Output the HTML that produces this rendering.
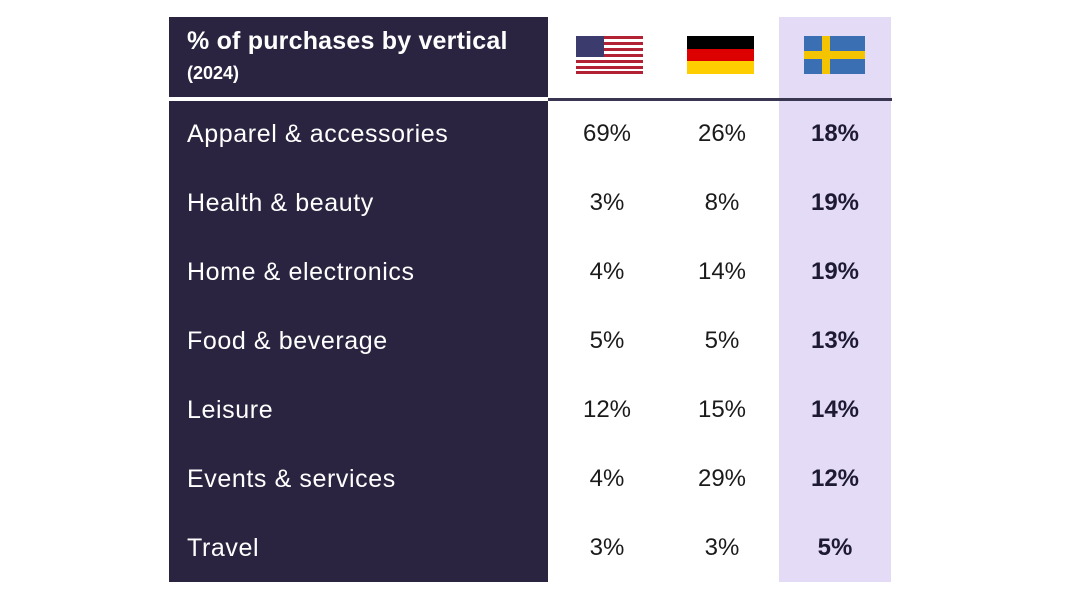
<!DOCTYPE html>
<html><head><meta charset="utf-8"><style>
body{margin:0;width:1066px;height:600px;background:#fff;position:relative;overflow:hidden;font-family:"Liberation Sans",sans-serif}
.abs{position:absolute}
.lbl{color:#fff;font-size:25px;left:187px;letter-spacing:0.6px;white-space:nowrap}
.val{font-size:24px;color:#1a1a1a;width:100px;text-align:center;margin-left:-50px}
.b{font-weight:bold;color:#1e1a33}
</style></head><body>
<div class="abs" style="left:169px;top:17px;width:379px;height:80px;background:#2a2440"></div>
<div class="abs" style="left:169px;top:101px;width:379px;height:481px;background:#2a2440"></div>
<div class="abs" style="left:779px;top:17px;width:112px;height:565px;background:#e4dcf6"></div>
<div class="abs" style="left:548px;top:98px;width:344px;height:3px;background:#3a3550"></div>
<div class="abs" style="left:187px;top:27px;color:#fff;font-weight:bold;font-size:25px;letter-spacing:0.2px;white-space:nowrap">% of purchases by vertical</div>
<div class="abs" style="left:187px;top:63px;color:#fff;font-weight:bold;font-size:18px">(2024)</div>
<svg class="abs" style="left:576px;top:36px" width="67" height="38" viewBox="0 0 67 38">
<rect width="67" height="38" fill="#fff"/>
<g fill="#b22234"><rect y="0" width="67" height="3"/><rect y="6" width="67" height="3"/><rect y="12" width="67" height="3"/><rect y="18" width="67" height="3"/><rect y="24" width="67" height="3"/><rect y="30" width="67" height="3"/><rect y="35" width="67" height="3"/></g>
<rect width="28" height="21" fill="#3c3b6e"/></svg>
<svg class="abs" style="left:687px;top:36px" width="67" height="38"><rect width="67" height="13" fill="#000"/><rect y="13" width="67" height="12" fill="#dd0000"/><rect y="25" width="67" height="13" fill="#ffce00"/></svg>
<svg class="abs" style="left:804px;top:36px" width="61" height="38"><rect width="61" height="38" fill="#3b6fb4"/><rect x="18" width="8" height="38" fill="#f5c400"/><rect y="15" width="61" height="8" fill="#f5c400"/></svg>
<div id="rows"></div>
<script>
const categories=["Apparel & accessories","Health & beauty","Home & electronics","Food & beverage","Leisure","Events & services","Travel"];
const usValues=[69,3,4,5,12,4,3];
const deValues=[26,8,14,5,15,29,3];
const seValues=[18,19,19,13,14,12,5];
const root=document.getElementById('rows');
const rowY=i=>135+i*69;
function add(cls,text,x,y,name){
 const d=document.createElement('div');
 d.className='abs '+cls;d.textContent=text;
 d.style.left=x+'px';d.style.top=(y-15)+'px';
 
 
 root.appendChild(d);
}
categories.forEach((c,i)=>{
 const y=rowY(i);
 add('lbl',c,187,y,'row-label');
 add('val',usValues[i]+'%',607,y,'us-value');
 add('val',deValues[i]+'%',722,y,'germany-value');
 add('val b',seValues[i]+'%',835,y,'sweden-value');
});
</script>
</body></html>
